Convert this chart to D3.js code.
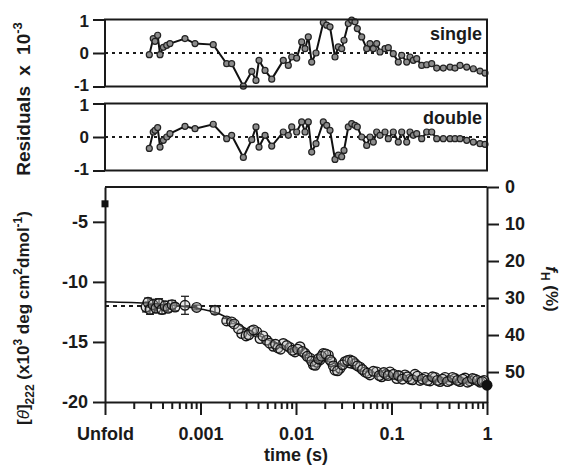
<!DOCTYPE html>
<html>
<head>
<meta charset="utf-8">
<script src="https://cdn.jsdelivr.net/npm/d3@7"></script>
<style>
  body { margin: 0; background: #fff; }
  text { font-family: "Liberation Sans", Arial, sans-serif; font-weight: bold; fill: #1a1a1a; }
</style>
</head>
<body>
<svg id="chart" width="567" height="470"></svg>
<script>
// ---- residuals (same time points for both fits), units of 10^-3
var resTime = [2.91e-4, 3.20e-4, 3.34e-4, 3.56e-4, 3.77e-4, 4.08e-4, 4.43e-4, 4.79e-4, 6.88e-4, 8.76e-4,
  1.36e-3, 1.88e-3, 2.12e-3, 2.81e-3, 3.44e-3, 3.81e-3, 4.10e-3, 4.74e-3, 5.57e-3, 7.36e-3,
  8.31e-3, 9.02e-3, 0.01017, 0.01147, 0.01243, 0.01345, 0.01460, 0.01620, 0.01932, 0.02097,
  0.02270, 0.02561, 0.02773, 0.03009, 0.03181, 0.03528, 0.03831, 0.04148, 0.04385, 0.04875,
  0.05500, 0.05955, 0.06449, 0.06998, 0.07578, 0.08551, 0.09259, 0.1044, 0.1178, 0.1279,
  0.1443, 0.1562, 0.1692, 0.1836, 0.2071, 0.2336, 0.2636, 0.2974, 0.3487, 0.4099,
  0.4624, 0.5217, 0.6131, 0.7187, 0.8447, 0.9530];
var resSingle = [-0.05, 0.43, 0.35, 0.53, -0.05, 0.17, 0.23, 0.28, 0.43, 0.28,
  0.25, -0.32, -0.32, -0.99, -0.55, -0.82, -0.22, -0.52, -0.78, -0.22,
  -0.37, -0.12, -0.15, 0.33, 0.13, 0.48, -0.27, 0.0, 0.91, 0.83,
  0.78, -0.12, 0.18, 0.13, 0.38, 0.88, 0.98, 0.93, 0.73, 0.48,
  0.13, 0.28, 0.13, 0.28, 0.03, 0.13, 0.16, -0.02, -0.27, -0.07,
  -0.27, -0.12, -0.22, -0.17, -0.37, -0.35, -0.32, -0.45, -0.45, -0.42,
  -0.45, -0.37, -0.42, -0.47, -0.54, -0.6];
var resDouble = [-0.34, 0.15, 0.2, 0.28, -0.3, -0.1, 0.0, 0.1, 0.32, 0.25,
  0.38, -0.05, 0.05, -0.61, -0.08, 0.3, -0.3, 0.05, -0.27, 0.15,
  0.05, 0.3, 0.15, 0.45, 0.15, 0.45, -0.45, -0.2, 0.45, 0.35,
  0.2, -0.67, -0.54, -0.59, -0.4, 0.3, 0.4, 0.35, 0.3, 0.0,
  -0.25, 0.0, -0.15, 0.15, 0.05, 0.15, -0.05, 0.15, -0.15, 0.15,
  -0.15, 0.15, 0.05, 0.1, -0.05, 0.15, 0.15, -0.05, -0.05, -0.05,
  -0.05, -0.05, -0.1, -0.15, -0.2, -0.22];

// ---- kinetic trace [theta]222 (x10^3)
var time = [2.69e-4, 2.82e-4, 2.96e-4, 3.18e-4, 3.42e-4, 3.68e-4, 3.95e-4, 4.25e-4, 4.57e-4, 5.03e-4,
  5.41e-4, 6.88e-4, 9.12e-4, 1.418e-3, 1.88e-3, 2.12e-3, 2.70e-3, 3.00e-3, 3.44e-3, 3.88e-3,
  4.20e-3, 4.93e-3, 5.78e-3, 6.48e-3, 7.36e-3, 8.65e-3, 9.76e-3, 0.0110, 0.0124, 0.0140,
  0.0152, 0.0166, 0.0178, 0.0193, 0.0218, 0.0236, 0.0256, 0.0289, 0.0326, 0.0368,
  0.0415, 0.0468, 0.0528, 0.0595, 0.0700, 0.0789, 0.0876, 0.0964, 0.1134, 0.1227,
  0.1385, 0.1562, 0.1762, 0.1988, 0.2243, 0.2530, 0.2855, 0.3221, 0.3633, 0.4099,
  0.4624, 0.5217, 0.5885, 0.6637, 0.7485, 0.8447, 0.9302,
  0.00225, 0.0025, 0.0032, 0.0036, 0.0045, 0.0053, 0.0061, 0.0069, 0.0080, 0.0092,
  0.0104, 0.0117, 0.0131, 0.0146, 0.0159, 0.0172, 0.0185, 0.0205, 0.0227, 0.0246,
  0.0272, 0.0307, 0.0347, 0.0391, 0.0441, 0.0497, 0.0561, 0.0645, 0.0745, 0.0830,
  0.0920, 0.1050, 0.1180, 0.1300, 0.1470, 0.1660, 0.1870, 0.2110, 0.2380, 0.2690,
  0.3030, 0.3420, 0.3860, 0.4350, 0.4910, 0.5540, 0.6250, 0.7050, 0.7950, 0.8900];
var theta = [-12.1, -11.7, -12.3, -11.9, -12.2, -11.8, -12.3, -12.0, -12.2, -11.9,
  -12.1, -11.95, -12.13, -12.36, -13.25, -13.33, -14.3, -14.5, -14.08, -14.17,
  -14.72, -14.86, -15.36, -15.5, -15.13, -15.47, -15.83, -15.4, -15.95, -16.35,
  -16.9, -16.7, -16.5, -15.97, -16.1, -16.65, -17.35, -17.2, -16.65, -16.5,
  -16.8, -17.1, -17.5, -17.75, -17.5, -17.9, -17.7, -17.5, -18.05, -17.85,
  -17.75, -18.1, -17.7, -18.2, -17.95, -18.25, -17.95, -18.3, -17.95, -18.2,
  -18.05, -18.3, -18.0, -18.25, -18.1, -18.35, -18.2,
  -13.5, -13.9, -14.4, -14.0, -14.5, -15.1, -15.2, -15.6, -15.3, -15.7,
  -15.6, -15.8, -16.2, -16.6, -16.95, -16.4, -16.2, -16.0, -16.5, -17.0,
  -17.4, -16.9, -16.55, -16.6, -17.0, -17.3, -17.6, -17.45, -17.8, -17.55,
  -17.8, -17.7, -17.8, -18.1, -17.9, -18.15, -17.85, -18.1, -18.2, -17.9,
  -18.2, -18.1, -18.3, -17.95, -18.2, -18.1, -18.35, -18.05, -18.2, -18.3];
var thetaErr = [0.4, 0.35, 0.4, 0.45, 0.35, 0.4, 0.35, 0.4, 0.3, 0.35,
  0.3, 0.75, 0.2, 0.3, 0.2, 0.15];   // remaining points have no error bar
var unfoldTime = 1e-4, unfoldTheta = -3.5;   // filled square
var finalTime = 1, finalTheta = -18.6;       // filled circle
var fitTime = [1e-4, 3e-4, 6e-4, 1e-3, 1.5e-3, 2e-3, 3e-3, 5e-3, 8e-3, 0.012, 0.02, 0.03, 0.05, 0.1, 0.2, 0.5, 1];
var fitTheta = [-11.65, -11.8, -12.0, -12.25, -12.6, -13.1, -13.9, -14.8, -15.5, -16.0, -16.55, -16.95, -17.4, -17.8, -18.1, -18.35, -18.5];
var refTheta = -12;   // dotted reference level

var xTicks = [1e-4, 1e-3, 1e-2, 1e-1, 1];
var xTickLabels = ["Unfold", "0.001", "0.01", "0.1", "1"];
var yTicks = [-5, -10, -15, -20];
var fTicks = [0, 10, 20, 30, 40, 50];
var resTicks = [-1, 0, 1];

var svg = d3.select("#chart");
var ink = "#1a1a1a";

var left = 105, right = 487;
var x = d3.scaleLog().domain([1e-4, 1]).range([left, right]);
var ySingle = d3.scaleLinear().domain([-1, 1]).range([86.5, 19.5]);
var yDouble = d3.scaleLinear().domain([-1, 1]).range([170.5, 103.5]);
var y = d3.scaleLinear().domain([-20, -2.1]).range([402, 187]);
var yF = d3.scaleLinear().domain([0, 58.1]).range([187, 402]);

// residual panel
function residualPanel(yScale, vals, name){
  var g = svg.append("g");
  g.append("line")
    .attr("x1", left).attr("x2", right)
    .attr("y1", yScale(0)).attr("y2", yScale(0))
    .attr("stroke", ink).attr("stroke-width", 2).attr("stroke-dasharray", "3,4");
  var ax = g.append("g")
    .attr("transform", "translate(" + left + ",0)")
    .call(d3.axisLeft(yScale).tickValues(resTicks).tickSize(12).tickSizeOuter(0).tickPadding(4)
      .tickFormat(function(d){ return String(d); }));
  ax.select(".domain").remove();
  ax.selectAll("line").attr("stroke", ink).attr("stroke-width", 2);
  ax.selectAll("text").style("font-size", "17px").attr("fill", ink)
    // keep the -1 / 1 labels of the stacked panels from touching
    .attr("y", function(d){ return d === -1 ? -1.3 : (d === 1 ? 1.3 : 0); });

  var pts = resTime.map(function(t, i){ return [t, vals[i]]; });
  g.append("path")
    .datum(pts)
    .attr("fill", "none").attr("stroke", "#111").attr("stroke-width", 2)
    .attr("d", d3.line().x(function(d){ return x(d[0]); }).y(function(d){ return yScale(d[1]); }));
  g.selectAll("circle")
    .data(pts)
    .enter().append("circle")
      .attr("cx", function(d){ return x(d[0]); })
      .attr("cy", function(d){ return yScale(d[1]); })
      .attr("r", 3)
      .attr("fill", "#8c8c8c").attr("stroke", "#222").attr("stroke-width", 1.2);
  g.append("rect")
    .attr("x", left).attr("y", yScale(1))
    .attr("width", right - left).attr("height", yScale(-1) - yScale(1))
    .attr("fill", "none").attr("stroke", ink).attr("stroke-width", 2);
  g.append("text")
    .attr("x", right - 5).attr("y", yScale(0.4))
    .attr("text-anchor", "end")
    .style("font-size", "18px")
    .text(name);
}
residualPanel(ySingle, resSingle, "single");
residualPanel(yDouble, resDouble, "double");

// Residuals label
svg.append("text")
  .attr("transform", "translate(30,99) rotate(-90)")
  .attr("text-anchor", "middle")
  .style("font-size", "19px")
  .style("word-spacing", "5px")
  .call(function(t){
    t.append("tspan").text("Residuals x 10");
    t.append("tspan").attr("dy", -8).style("font-size", "13px").text("-3");
  });

// main panel
svg.append("line")
  .attr("x1", left).attr("x2", right).attr("y1", y(refTheta)).attr("y2", y(refTheta))
  .attr("stroke", ink).attr("stroke-width", 2).attr("stroke-dasharray", "4,4");

var axL = svg.append("g").attr("transform", "translate(" + left + ",0)")
  .call(d3.axisLeft(y).tickValues(yTicks).tickSize(12).tickSizeOuter(0).tickPadding(5)
    .tickFormat(function(d){ return String(d); }));
var axR = svg.append("g").attr("transform", "translate(" + right + ",0)")
  .call(d3.axisRight(yF).tickValues(fTicks).tickSize(12).tickSizeOuter(0).tickPadding(6));
var axB = svg.append("g").attr("transform", "translate(0," + y(-20) + ")")
  .call(d3.axisBottom(x).tickValues(xTicks).tickSize(13).tickSizeOuter(0).tickPadding(12)
    .tickFormat(function(d, i){ return xTickLabels[i]; }));
var minor = [];
for (var e = -4; e < 0; e++) for (var m = 2; m <= 9; m++) minor.push(m * Math.pow(10, e));
var axM = svg.append("g").attr("transform", "translate(0," + y(-20) + ")")
  .call(d3.axisBottom(x).tickValues(minor).tickSize(7).tickSizeOuter(0).tickFormat(""));
axM.select(".domain").remove();
[axL, axR, axB, axM].forEach(function(a){
  a.selectAll(".domain").attr("stroke", ink).attr("stroke-width", 2);
  a.selectAll("line").attr("stroke", ink).attr("stroke-width", 2);
  a.selectAll("text").style("font-size", "18px").attr("fill", ink);
});
svg.append("line")
  .attr("x1", left).attr("x2", right).attr("y1", y.range()[1]).attr("y2", y.range()[1])
  .attr("stroke", ink).attr("stroke-width", 2);

// fit curve
var fitPts = fitTime.map(function(t, i){ return [t, fitTheta[i]]; });
svg.append("path")
  .datum(fitPts)
  .attr("fill", "none").attr("stroke", "#111").attr("stroke-width", 1.6)
  .attr("d", d3.line().curve(d3.curveMonotoneX)
    .x(function(d){ return x(d[0]); }).y(function(d){ return y(d[1]); }));

// data with error bars
var data = time.map(function(t, i){ return {t: t, v: theta[i], e: thetaErr[i] || 0}; });
var eb = svg.append("g").attr("stroke", "#222").attr("stroke-width", 1.3);
data.filter(function(d){ return d.e > 0; }).forEach(function(d){
  var cx = x(d.t);
  eb.append("line").attr("x1", cx).attr("x2", cx).attr("y1", y(d.v - d.e)).attr("y2", y(d.v + d.e));
  eb.append("line").attr("x1", cx - 4).attr("x2", cx + 4).attr("y1", y(d.v - d.e)).attr("y2", y(d.v - d.e));
  eb.append("line").attr("x1", cx - 4).attr("x2", cx + 4).attr("y1", y(d.v + d.e)).attr("y2", y(d.v + d.e));
});
svg.append("g").selectAll("circle")
  .data(data)
  .enter().append("circle")
    .attr("cx", function(d){ return x(d.t); })
    .attr("cy", function(d){ return y(d.v); })
    .attr("r", 4.8)
    .attr("fill", "#b8b8b8").attr("fill-opacity", 0.35)
    .attr("stroke", "#151515").attr("stroke-width", 1.4);

svg.append("rect")
  .attr("x", x(unfoldTime) - 3.5).attr("y", y(unfoldTheta) - 3.5)
  .attr("width", 7).attr("height", 7).attr("fill", "#111");
svg.append("circle")
  .attr("cx", x(finalTime)).attr("cy", y(finalTheta)).attr("r", 5.5).attr("fill", "#111");

// axis titles
svg.append("text")
  .attr("x", (left + right) / 2).attr("y", 461)
  .attr("text-anchor", "middle").style("font-size", "18px")
  .text("time (s)");

svg.append("text")
  .attr("transform", "translate(29,318) rotate(-90)")
  .attr("text-anchor", "middle")
  .style("font-size", "17px")
  .call(function(t){
    t.append("tspan").text("[");
    t.append("tspan").style("font-style", "italic").style("font-weight", "normal").text("\u03B8");
    t.append("tspan").text("]");
    t.append("tspan").attr("dy", 5).style("font-size", "12px").text("222");
    t.append("tspan").attr("dy", -5).text(" (x10");
    t.append("tspan").attr("dy", -7).style("font-size", "12px").text("3");
    t.append("tspan").attr("dy", 7).text(" deg cm");
    t.append("tspan").attr("dy", -7).style("font-size", "12px").text("2");
    t.append("tspan").attr("dy", 7).text("dmol");
    t.append("tspan").attr("dy", -7).style("font-size", "12px").text("-1");
    t.append("tspan").attr("dy", 7).text(")");
  });

svg.append("text")
  .attr("transform", "translate(546,289) rotate(90)")
  .attr("text-anchor", "middle")
  .style("font-size", "17px")
  .call(function(t){
    t.append("tspan").style("font-style", "italic").text("f");
    t.append("tspan").attr("dy", 5).style("font-size", "12px").text("H");
    t.append("tspan").attr("dy", -5).text(" (%)");
  });
</script>
</body>
</html>
